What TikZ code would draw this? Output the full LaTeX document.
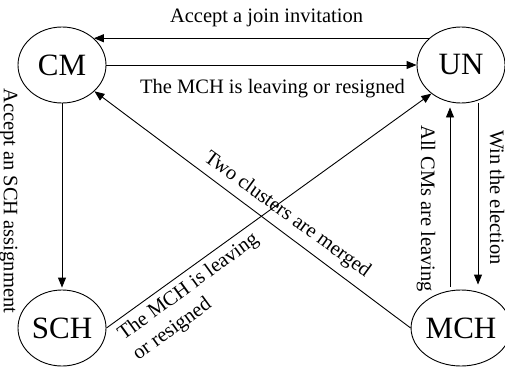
\documentclass[tikz,border=0pt]{standalone}
\usepackage{fontspec}
\setmainfont{Liberation Serif}
\usetikzlibrary{arrows.meta,shapes.geometric}
\tikzset{
  state/.style={draw, ellipse, line width=0.9pt, minimum width=88pt, minimum height=76pt, inner sep=0pt, font=\fontsize{31}{36}\selectfont},
  arr/.style={line width=0.9pt, -{Triangle[length=10pt,width=8pt]}},
  lbl/.style={inner sep=0pt, font=\fontsize{20.5}{25}\selectfont}
}
\begin{document}
\begin{tikzpicture}[x=1pt,y=-1pt]
\useasboundingbox (0,0) rectangle (505,372);
\node[state] (CM) at (62,65) {CM};
\node[state] (UN) at (461,65) {UN};
\node[state] (SCH) at (62,328) {SCH};
\node[state] (MCH) at (461,328) {MCH};

\draw[arr] (UN.140) -- (CM.40);
\draw[arr] (CM.east) -- (UN.west);
\draw[arr, shorten >=2pt] (CM.south) -- (SCH.north);
\draw[arr] (SCH.east) -- (UN.224);
\draw[arr] (MCH.west) -- (CM.-39);
\draw[arr, shorten <=3pt, shorten >=4pt] ([xshift=-11pt]MCH.north) -- ([xshift=-11pt]UN.south);
\draw[arr, shorten >=5pt] ([xshift=17pt]UN.south) -- ([xshift=17pt]MCH.north);

\node[lbl, anchor=base] (l1) at (266.5,22) {Accept a join invitation};
\node[lbl, anchor=base] (l2) at (272.5,93) {The MCH is leaving or resigned};
\node[lbl, anchor=base west, rotate=-90] (l3) at (4,88) {Accept an SCH assignment};
\node[lbl, anchor=base west, rotate=-90] (l4) at (421,125) {All CMs are leaving};
\node[lbl, anchor=base west, rotate=-90] (l5) at (490,130) {Win the election};
\node[lbl, anchor=base west, rotate=-36] (l6) at (203,160) {Two clusters are merged};
\node[lbl, anchor=north west, rotate=36, align=left] (l7) at (115,329) {The MCH is leaving\\or resigned};
\end{tikzpicture}
\end{document}
